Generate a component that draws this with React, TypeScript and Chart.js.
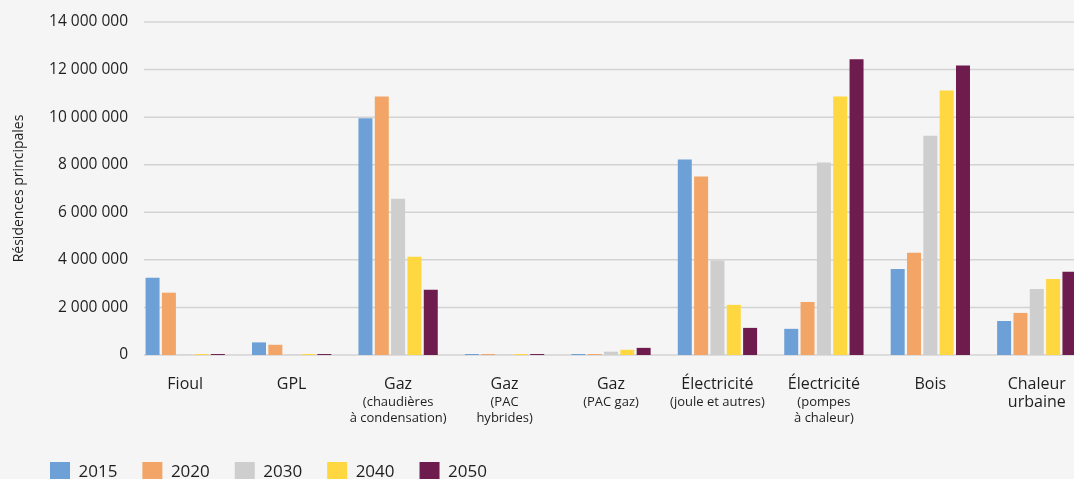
import React, { useEffect, useRef } from "react";
import { Chart, registerables } from "chart.js";

Chart.register(...registerables);

const categories: string[][] = [
  ["Fioul"],
  ["GPL"],
  ["Gaz"],
  ["Gaz"],
  ["Gaz"],
  ["Électricité"],
  ["Électricité"],
  ["Bois"],
  ["Chaleur", "urbaine"],
];
const subLabels: string[][] = [
  [],
  [],
  ["(chaudières", "à condensation)"],
  ["(PAC", "hybrides)"],
  ["(PAC gaz)"],
  ["(joule et autres)"],
  ["(pompes", "à chaleur)"],
  [],
  [],
];
const years = ["2015", "2020", "2030", "2040", "2050"];
const values2015 = [3250000, 530000, 9950000, 40000, 40000, 8220000, 1100000, 3620000, 1430000];
const values2020 = [2620000, 430000, 10870000, 40000, 40000, 7500000, 2230000, 4300000, 1770000];
const values2030 = [20000, 20000, 6570000, 20000, 140000, 3970000, 8090000, 9220000, 2780000];
const values2040 = [40000, 40000, 4130000, 40000, 220000, 2110000, 10870000, 11120000, 3200000];
const values2050 = [40000, 40000, 2740000, 40000, 300000, 1140000, 12430000, 12170000, 3500000];
const seriesValues = [values2015, values2020, values2030, values2040, values2050];
const colors = ["#6CA0D6", "#F2A566", "#CECECE", "#FFD741", "#6E1C4E"];
const yMax = 14000000;
const yStep = 2000000;
const yTitle = "Résidences principales";

const FONT = "'Open Sans', sans-serif";
const TEXT = "#1e1e1e";

function fmt(v: number): string {
  return String(Math.round(v)).replace(/\B(?=(\d{3})+(?!\d))/g, " ");
}

const gridPlugin = {
  id: "customGrid",
  beforeDatasetsDraw(chart: any) {
    const y = chart.scales.y;
    const { left, right } = chart.chartArea;
    const ctx = chart.ctx;
    ctx.save();
    ctx.strokeStyle = "#d3d3d3";
    ctx.lineWidth = 1.5;
    y.ticks.forEach((t: any) => {
      const py = y.getPixelForValue(t.value);
      ctx.beginPath();
      ctx.moveTo(left + 12, py);
      ctx.lineTo(right, py);
      ctx.stroke();
    });
    ctx.restore();
  },
};

const subLabelPlugin = {
  id: "subLabels",
  afterDraw(chart: any) {
    const x = chart.scales.x;
    const ctx = chart.ctx;
    const base = chart.chartArea.bottom;
    ctx.save();
    ctx.fillStyle = TEXT;
    ctx.font = `13px ${FONT}`;
    ctx.textAlign = "center";
    ctx.textBaseline = "middle";
    subLabels.forEach((lines, i) => {
      const px = x.getPixelForTick(i);
      lines.forEach((line, j) => {
        ctx.fillText(line, px, base + 47 + j * 16);
      });
    });
    ctx.restore();
  },
};

const legendShiftPlugin = {
  id: "legendShift",
  afterLayout(chart: any) {
    const l = chart.legend;
    if (l) {
      l.left += 25;
      l.right += 25;
    }
  },
};

export default function App() {
  const ref = useRef<HTMLCanvasElement | null>(null);
  useEffect(() => {
    if (!ref.current) return;
    const chart = new Chart(ref.current, {
      type: "bar",
      data: {
        labels: categories,
        datasets: years.map((yr, i) => ({
          label: yr,
          data: seriesValues[i],
          backgroundColor: colors[i],
          borderWidth: 0,
          categoryPercentage: 0.767,
          barPercentage: 0.857,
        })),
      },
      options: {
        responsive: false,
        animation: false,
        devicePixelRatio: 1,
        layout: { padding: { top: 22, left: 0, right: 0, bottom: 0 } },
        plugins: {
          legend: {
            position: "bottom",
            align: "start",
            labels: {
              boxWidth: 20,
              boxHeight: 20,
              padding: 25,
              color: TEXT,
              font: { family: FONT, size: 17 },
            },
          },
          tooltip: { enabled: false },
        },
        scales: {
          x: {
            grid: { display: false, drawTicks: false },
            border: { display: false },
            ticks: {
              padding: 20,
              color: TEXT,
              maxRotation: 0,
              autoSkip: false,
              font: { family: FONT, size: 16, lineHeight: 1.15 },
            },
            afterFit(scale: any) {
              scale.height = 82;
            },
          },
          y: {
            min: 0,
            max: yMax,
            grid: { display: false, drawTicks: false },
            border: { display: false },
            ticks: {
              stepSize: yStep,
              padding: 4,
              color: TEXT,
              font: { family: FONT, size: 15.5 },
              callback: (v: any) => fmt(Number(v)),
            },
            title: {
              display: true,
              text: yTitle,
              color: TEXT,
              font: { family: FONT, size: 14 },
              padding: { top: 11, bottom: 0 },
            },
            afterFit(scale: any) {
              scale.width = 132;
            },
          },
        },
      },
      plugins: [gridPlugin, subLabelPlugin, legendShiftPlugin],
    });
    return () => chart.destroy();
  }, []);

  return (
    <div
      style={{
        position: "absolute",
        left: 0,
        top: 0,
        width: 1074,
        height: 479,
        overflow: "hidden",
        background: "#f5f5f5",
      }}
    >
      <canvas ref={ref} width={1090} height={492} style={{ width: 1090, height: 492, display: "block" }} />
    </div>
  );
}
